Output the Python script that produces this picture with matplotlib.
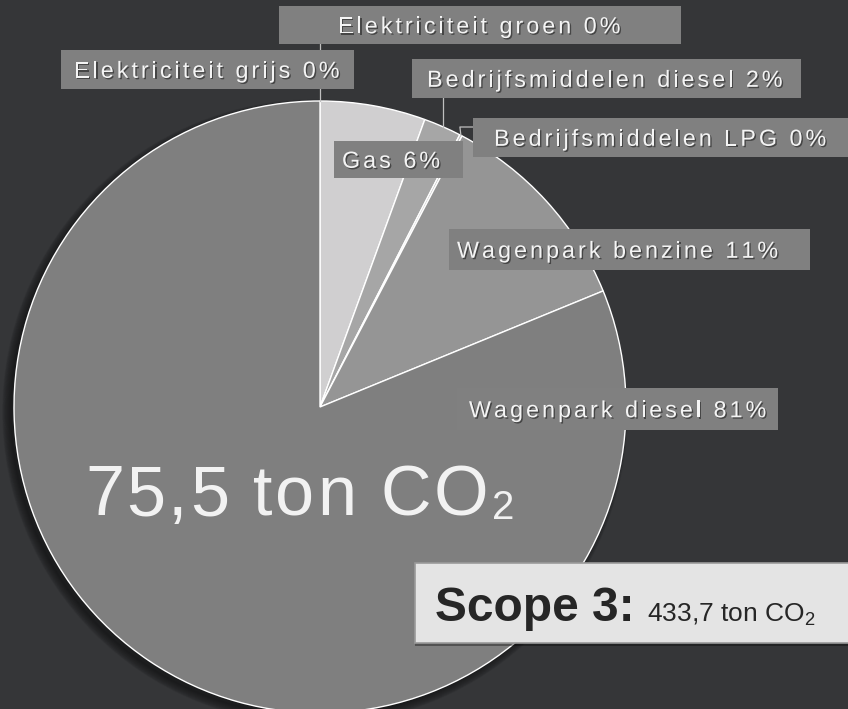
import matplotlib
matplotlib.use("Agg")
import matplotlib.pyplot as plt
import matplotlib.patheffects as pe
from matplotlib.patches import Rectangle, Circle
from matplotlib.font_manager import FontProperties, findfont
from matplotlib.ft2font import FT2Font
import numpy as np

plt.rcParams['font.family'] = ['Liberation Sans', 'DejaVu Sans']
plt.rcParams['mathtext.fontset'] = 'custom'
plt.rcParams['mathtext.rm'] = 'Liberation Sans'

# data (ton CO2), clockwise from top
categories = ['Elektriciteit grijs', 'Elektriciteit groen', 'Gas',
              'Bedrijfsmiddelen diesel', 'Bedrijfsmiddelen LPG',
              'Wagenpark benzine', 'Wagenpark diesel']
tonnes = [0.0, 0.0, 4.2, 1.5, 0.1, 8.4, 61.3]
colors = ['#d0cfd0', '#d0cfd0', '#d0cfd0', '#a6a6a6', '#bdbdbd', '#959595', '#7f7f7f']
scope3_total = '433,7'

total = sum(tonnes)
pct = [round(v / total * 100) for v in tonnes]

BG = '#353638'
W, H = 848, 709
fig = plt.figure(figsize=(W / 100, H / 100), dpi=100)
fig.patch.set_facecolor(BG)
ax = fig.add_axes([0, 0, 1, 1])

cx, cy, R = 320, 407, 306

# soft shadow under the pie (down-left)
for k in range(10):
    ax.add_patch(Circle((cx - 5, cy + 5), R - 2 + k * 0.9, color='black', alpha=0.05, zorder=0))

# y axis is inverted below, so counterclock=True runs clockwise on screen
wedges, _ = ax.pie(tonnes, colors=colors, startangle=-90, counterclock=True,
                   center=(cx, cy), radius=R, frame=True,
                   wedgeprops=dict(edgecolor='white', linewidth=1.0))
for w in wedges:
    w.set_zorder(1)

ax.set_xlim(0, W)
ax.set_ylim(H, 0)
ax.set_aspect('auto')
ax.axis('off')

shadow = [pe.withSimplePatchShadow(offset=(1, -1), shadow_rgbFace='black', alpha=0.45)]


def spaced_text(x0, base, s, size, spacing, color='#f4f4f4', effects=None, z=5):
    prop = FontProperties(family='Liberation Sans', size=size)
    ft = FT2Font(findfont(prop))
    ft.set_size(size, 100)
    x = x0
    for ch in s:
        adv = ft.load_char(ord(ch)).linearHoriAdvance / 65536
        if ch != ' ':
            ax.text(x + adv / 2, base, ch, fontproperties=prop, color=color,
                    ha='center', va='baseline', zorder=z, path_effects=effects)
        x += adv + spacing
    return x


# label layout: box (x0, y0, x1, y1), text start x
layout = {
    'Elektriciteit groen': ((279, 6, 681, 44), 338),
    'Elektriciteit grijs': ((61, 50, 354, 89), 74),
    'Bedrijfsmiddelen diesel': ((412, 59, 801, 98), 427),
    'Bedrijfsmiddelen LPG': ((473, 118, 860, 157), 494),
    'Gas': ((334, 141, 463, 178), 342),
    'Wagenpark benzine': ((449, 229, 810, 270), 457),
    'Wagenpark diesel': ((457, 388, 778, 430), 469),
}

# leader lines from wedge mid-points
mids = {}
for name, w in zip(categories, wedges):
    th = np.deg2rad((w.theta1 + w.theta2) / 2)
    mids[name] = (cx + R * np.cos(th), cy + R * np.sin(th))

lc = dict(color='#bfbfbf', lw=0.9, zorder=2)
mx, my = mids['Elektriciteit grijs']
ax.plot([mx, mx], [my, 89], **lc)
mx, my = mids['Elektriciteit groen']
ax.plot([mx, mx], [50, 44], **lc)
mx, my = mids['Bedrijfsmiddelen diesel']
ax.plot([mx, mx], [my, 98], **lc)
mx, my = mids['Bedrijfsmiddelen LPG']
ax.plot([mx, mx - 1, 473], [my, 127, 127], **lc)

for name, p in zip(categories, pct):
    (x0, y0, x1, y1), tx = layout[name]
    ax.add_patch(Rectangle((x0, y0), x1 - x0, y1 - y0, facecolor='#808080',
                           edgecolor='none', zorder=3))
    base = (y0 + y1) / 2 + 8.3
    spaced_text(tx, base, f'{name} {p}%', 16.8, 3.0, effects=shadow)

# central total
total_txt = f'{total:.1f}'.replace('.', ',')
xe = spaced_text(85, 515, total_txt + ' ton CO', 50.5, 2.5, color='#f2f2f2', z=4)
ax.text(xe + 1, 519, '2', fontsize=29, color='#f2f2f2', ha='left', va='baseline', zorder=4)

# scope 3 box
ax.add_patch(Rectangle((415, 563), 460, 80, facecolor='#e4e4e4', edgecolor='#9a9a9a',
                       lw=1.2, zorder=6,
                       path_effects=[pe.withSimplePatchShadow(offset=(0, -2), shadow_rgbFace='black',
                                                              alpha=0.35)]))
ax.text(435, 621, 'Scope 3:', fontsize=34.5, fontweight='bold', color='#262626',
        ha='left', va='baseline', zorder=7)
ax.text(647, 621, scope3_total + r' ton CO$_{\mathrm{2}}$', fontsize=19, color='#262626',
        ha='left', va='baseline', zorder=7)

fig.savefig('out.png', dpi=100, facecolor=BG)
